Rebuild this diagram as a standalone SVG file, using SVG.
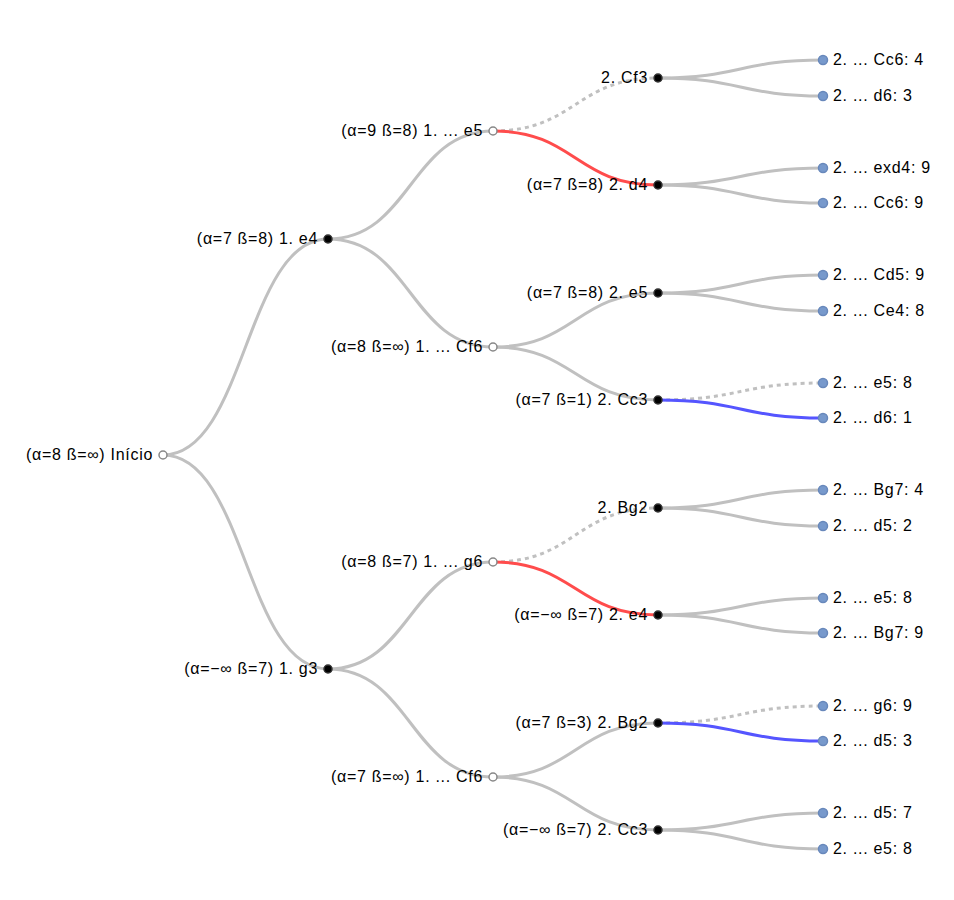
<svg xmlns="http://www.w3.org/2000/svg" width="954" height="900" viewBox="0 0 954 900">
<style>
.link{fill:none;stroke:#c0c0c0;stroke-width:3}
.red{stroke:#ff4c4c}
.blue{stroke:#5555ff}
.dash{stroke-dasharray:4,4}
circle{stroke-width:1.5}
.open{fill:#fff;stroke:#888}
.black{fill:#000;stroke:#333}
.leaf{fill:#7799cc;stroke:#6888bb}
text{font-family:"Liberation Sans",Arial,sans-serif;font-size:16px;letter-spacing:0.7px;fill:#000}
.l{text-anchor:end}
</style>
<rect width="954" height="900" fill="#fff"/>
<g id="links">
<path class="link" d="M163,455C245.5,455 245.5,239 328,239"/>
<path class="link" d="M163,455C245.5,455 245.5,669 328,669"/>
<path class="link" d="M328,239C410.5,239 410.5,131 493,131"/>
<path class="link" d="M328,239C410.5,239 410.5,347 493,347"/>
<path class="link" d="M328,669C410.5,669 410.5,562 493,562"/>
<path class="link" d="M328,669C410.5,669 410.5,777 493,777"/>
<path class="link dash" d="M493,131C575.5,131 575.5,78 658,78"/>
<path class="link red" d="M493,131C575.5,131 575.5,185 658,185"/>
<path class="link" d="M493,347C575.5,347 575.5,293 658,293"/>
<path class="link" d="M493,347C575.5,347 575.5,400 658,400"/>
<path class="link dash" d="M493,562C575.5,562 575.5,508 658,508"/>
<path class="link red" d="M493,562C575.5,562 575.5,615 658,615"/>
<path class="link" d="M493,777C575.5,777 575.5,723 658,723"/>
<path class="link" d="M493,777C575.5,777 575.5,830 658,830"/>
<path class="link" d="M658,78C740.5,78 740.5,60 823,60"/>
<path class="link" d="M658,78C740.5,78 740.5,96 823,96"/>
<path class="link" d="M658,185C740.5,185 740.5,168 823,168"/>
<path class="link" d="M658,185C740.5,185 740.5,203 823,203"/>
<path class="link" d="M658,293C740.5,293 740.5,275 823,275"/>
<path class="link" d="M658,293C740.5,293 740.5,311 823,311"/>
<path class="link dash" d="M658,400C740.5,400 740.5,383 823,383"/>
<path class="link blue" d="M658,400C740.5,400 740.5,418 823,418"/>
<path class="link" d="M658,508C740.5,508 740.5,490 823,490"/>
<path class="link" d="M658,508C740.5,508 740.5,526 823,526"/>
<path class="link" d="M658,615C740.5,615 740.5,598 823,598"/>
<path class="link" d="M658,615C740.5,615 740.5,633 823,633"/>
<path class="link dash" d="M658,723C740.5,723 740.5,706 823,706"/>
<path class="link blue" d="M658,723C740.5,723 740.5,741 823,741"/>
<path class="link" d="M658,830C740.5,830 740.5,813 823,813"/>
<path class="link" d="M658,830C740.5,830 740.5,849 823,849"/>
</g>
<g id="n0"><circle class="open" cx="163" cy="455" r="4"/><text class="l" x="153" y="460">(α=8 ß=∞) Início</text></g>
<g id="n1"><circle class="black" cx="328" cy="239" r="4"/><text class="l" x="318" y="244">(α=7 ß=8) 1. e4</text></g>
<g id="n2"><circle class="black" cx="328" cy="669" r="4"/><text class="l" x="318" y="674">(α=−∞ ß=7) 1. g3</text></g>
<g id="n3"><circle class="open" cx="493" cy="131" r="4"/><text class="l" x="483" y="136">(α=9 ß=8) 1. ... e5</text></g>
<g id="n4"><circle class="open" cx="493" cy="347" r="4"/><text class="l" x="483" y="352">(α=8 ß=∞) 1. ... Cf6</text></g>
<g id="n5"><circle class="open" cx="493" cy="562" r="4"/><text class="l" x="483" y="567">(α=8 ß=7) 1. ... g6</text></g>
<g id="n6"><circle class="open" cx="493" cy="777" r="4"/><text class="l" x="483" y="782">(α=7 ß=∞) 1. ... Cf6</text></g>
<g id="n7"><circle class="black" cx="658" cy="78" r="4"/><text class="l" x="648" y="83">2. Cf3</text></g>
<g id="n8"><circle class="black" cx="658" cy="185" r="4"/><text class="l" x="648" y="190">(α=7 ß=8) 2. d4</text></g>
<g id="n9"><circle class="black" cx="658" cy="293" r="4"/><text class="l" x="648" y="298">(α=7 ß=8) 2. e5</text></g>
<g id="n10"><circle class="black" cx="658" cy="400" r="4"/><text class="l" x="648" y="405">(α=7 ß=1) 2. Cc3</text></g>
<g id="n11"><circle class="black" cx="658" cy="508" r="4"/><text class="l" x="648" y="513">2. Bg2</text></g>
<g id="n12"><circle class="black" cx="658" cy="615" r="4"/><text class="l" x="648" y="620">(α=−∞ ß=7) 2. e4</text></g>
<g id="n13"><circle class="black" cx="658" cy="723" r="4"/><text class="l" x="648" y="728">(α=7 ß=3) 2. Bg2</text></g>
<g id="n14"><circle class="black" cx="658" cy="830" r="4"/><text class="l" x="648" y="835">(α=−∞ ß=7) 2. Cc3</text></g>
<g id="n15"><circle class="leaf" cx="823" cy="60" r="4.5"/><text x="833" y="65">2. ... Cc6: 4</text></g>
<g id="n16"><circle class="leaf" cx="823" cy="96" r="4.5"/><text x="833" y="101">2. ... d6: 3</text></g>
<g id="n17"><circle class="leaf" cx="823" cy="168" r="4.5"/><text x="833" y="173">2. ... exd4: 9</text></g>
<g id="n18"><circle class="leaf" cx="823" cy="203" r="4.5"/><text x="833" y="208">2. ... Cc6: 9</text></g>
<g id="n19"><circle class="leaf" cx="823" cy="275" r="4.5"/><text x="833" y="280">2. ... Cd5: 9</text></g>
<g id="n20"><circle class="leaf" cx="823" cy="311" r="4.5"/><text x="833" y="316">2. ... Ce4: 8</text></g>
<g id="n21"><circle class="leaf" cx="823" cy="383" r="4.5"/><text x="833" y="388">2. ... e5: 8</text></g>
<g id="n22"><circle class="leaf" cx="823" cy="418" r="4.5"/><text x="833" y="423">2. ... d6: 1</text></g>
<g id="n23"><circle class="leaf" cx="823" cy="490" r="4.5"/><text x="833" y="495">2. ... Bg7: 4</text></g>
<g id="n24"><circle class="leaf" cx="823" cy="526" r="4.5"/><text x="833" y="531">2. ... d5: 2</text></g>
<g id="n25"><circle class="leaf" cx="823" cy="598" r="4.5"/><text x="833" y="603">2. ... e5: 8</text></g>
<g id="n26"><circle class="leaf" cx="823" cy="633" r="4.5"/><text x="833" y="638">2. ... Bg7: 9</text></g>
<g id="n27"><circle class="leaf" cx="823" cy="706" r="4.5"/><text x="833" y="711">2. ... g6: 9</text></g>
<g id="n28"><circle class="leaf" cx="823" cy="741" r="4.5"/><text x="833" y="746">2. ... d5: 3</text></g>
<g id="n29"><circle class="leaf" cx="823" cy="813" r="4.5"/><text x="833" y="818">2. ... d5: 7</text></g>
<g id="n30"><circle class="leaf" cx="823" cy="849" r="4.5"/><text x="833" y="854">2. ... e5: 8</text></g>
</svg>
